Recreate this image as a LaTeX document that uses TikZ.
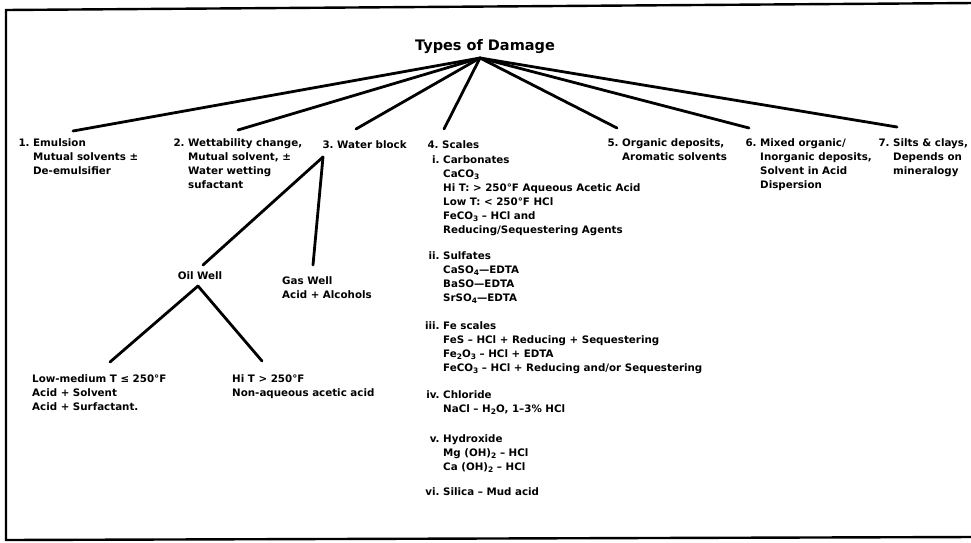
\documentclass[tikz,border=0pt]{standalone}
\usepackage{fontspec}
\setmainfont{DejaVu Sans}
\newcommand\blk{\fontsize{10.3}{14}\selectfont\bfseries}
\newcommand\ttl{\fontsize{14.5}{16}\selectfont\bfseries}
\newcommand\dn[1]{\raisebox{-0.45ex}{\fontsize{7.5}{8}\selectfont #1}}
\tikzset{
  txt/.style={anchor=north west, inner sep=0pt, align=left, font=\blk, execute at begin node=\strut},
  conn/.style={line width=2.8pt, line cap=round},
  frame/.style={line width=2.4pt, line join=miter}
}
\begin{document}
\begin{tikzpicture}[x=1pt,y=-1pt]
\useasboundingbox (0,0) rectangle (971,543);
% frame (open on the right)
\draw[frame] (975,3) -- (6,10) -- (6,540) -- (975,537);

% root
\node[anchor=base, inner sep=0pt, font=\ttl] (root) at (485,51) {Types of Damage};
\coordinate (apex) at (480,58);

% first level
\node[txt] (n1) at (33,138.2) {\llap{1.\ }Emulsion\\Mutual solvents ±\\De-emulsifier};
\node[txt] (n2) at (188,138.2) {\llap{2.\ }Wettability change,\\Mutual solvent, ±\\Water wetting\\sufactant};
\node[txt] (n3) at (337,138.2) {\llap{3.\ }Water block};
\node[txt] (n4) at (442,138.2) {\llap{4.\ }Scales};
\node[txt] (n5) at (622,138.2) {\llap{5.\ }Organic deposits,\\Aromatic solvents};
\node[txt] (n6) at (760,138.2) {\llap{6.\ }Mixed organic/\\Inorganic deposits,\\Solvent in Acid\\Dispersion};
\node[txt] (n7) at (893,138.2) {\llap{7.\ }Silts \& clays,\\Depends on\\mineralogy};

\coordinate (e1) at (73,131);
\coordinate (e2) at (238,130);
\coordinate (e3) at (356,129);
\coordinate (e4) at (444,129);
\coordinate (e5) at (617,128);
\coordinate (e6) at (749,128);
\coordinate (e7) at (897,127);
\foreach \e in {e1,e2,e3,e4,e5,e6,e7} \draw[conn] (apex) -- (\e);

% scales detail
\node[txt] (c1) at (443,155.2) {\llap{i.\ }Carbonates\\CaCO\dn{3}\\Hi T: > 250°F Aqueous Acetic Acid\\Low T: < 250°F HCl\\FeCO\dn{3} – HCl and\\Reducing/Sequestering Agents};
\node[txt] (c2) at (443,251.2) {\llap{ii.\ }Sulfates\\CaSO\dn{4}—EDTA\\BaSO—EDTA\\SrSO\dn{4}—EDTA};
\node[txt] (c3) at (443,321.2) {\llap{iii.\ }Fe scales\\FeS – HCl + Reducing + Sequestering\\Fe\dn{2}O\dn{3} – HCl + EDTA\\FeCO\dn{3} – HCl + Reducing and/or Sequestering};
\node[txt] (c4) at (443,390.2) {\llap{iv.\ }Chloride\\NaCl – H\dn{2}O, 1–3\% HCl};
\node[txt] (c5) at (443,434.2) {\llap{v.\ }Hydroxide\\Mg (OH)\dn{2} – HCl\\Ca (OH)\dn{2} – HCl};
\node[txt] (c6) at (443,485.2) {\llap{vi.\ }Silica – Mud acid};

% water block subtree
\coordinate (wtop) at (323,157);
\coordinate (wl) at (203,265);
\coordinate (wr) at (313,265);
\draw[conn] (wtop) -- (wl);
\draw[conn] (wtop) -- (wr);
\node[anchor=base, inner sep=0pt, font=\blk] (oil) at (200,279) {Oil Well};
\node[txt] (gas) at (282,276.2) {Gas Well\\Acid + Alcohols};
\coordinate (otop) at (198,286);
\coordinate (ol) at (110,362);
\coordinate (or) at (262,361);
\draw[conn] (otop) -- (ol);
\draw[conn] (otop) -- (or);
\node[txt] (low) at (32,374.2) {Low-medium T ≤ 250°F\\Acid + Solvent\\Acid + Surfactant.};
\node[txt] (hit) at (232,374.2) {Hi T > 250°F\\Non-aqueous acetic acid};
\end{tikzpicture}
\end{document}
